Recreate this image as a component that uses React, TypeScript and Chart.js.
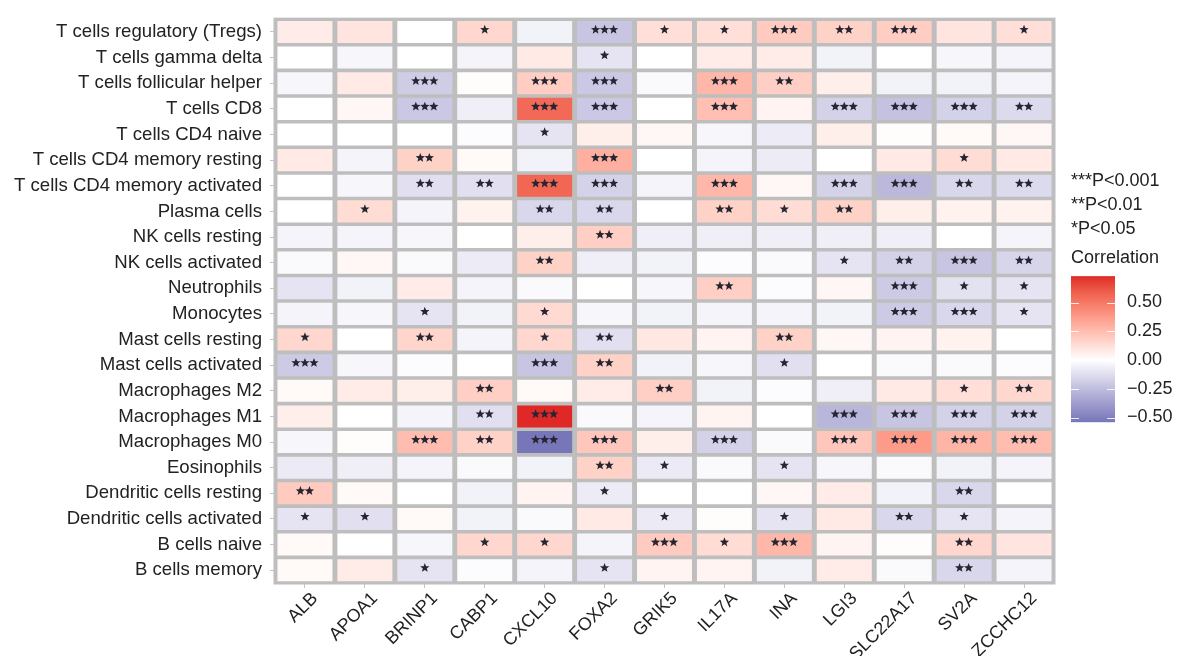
import React, { useEffect, useRef } from 'react';
import { Chart, registerables } from 'chart.js';

Chart.register(...registerables);

const genes = ['ALB', 'APOA1', 'BRINP1', 'CABP1', 'CXCL10', 'FOXA2', 'GRIK5', 'IL17A', 'INA', 'LGI3', 'SLC22A17', 'SV2A', 'ZCCHC12'];

const cellTypes = [
  'T cells regulatory (Tregs)',
  'T cells gamma delta',
  'T cells follicular helper',
  'T cells CD8',
  'T cells CD4 naive',
  'T cells CD4 memory resting',
  'T cells CD4 memory activated',
  'Plasma cells',
  'NK cells resting',
  'NK cells activated',
  'Neutrophils',
  'Monocytes',
  'Mast cells resting',
  'Mast cells activated',
  'Macrophages M2',
  'Macrophages M1',
  'Macrophages M0',
  'Eosinophils',
  'Dendritic cells resting',
  'Dendritic cells activated',
  'B cells naive',
  'B cells memory',
];

// correlation per cell type (row) and gene (column)
const correlation: number[][] = [
  [0.07, 0.10, 0.00, 0.15, -0.05, -0.22, 0.12, 0.12, 0.20, 0.17, 0.19, 0.10, 0.12],
  [0.00, -0.03, 0.00, -0.04, 0.08, -0.10, 0.00, 0.07, 0.07, -0.05, 0.00, -0.03, -0.04],
  [-0.03, 0.08, -0.19, 0.01, 0.19, -0.21, -0.02, 0.27, 0.18, 0.06, -0.05, -0.05, -0.04],
  [0.00, 0.03, -0.21, -0.06, 0.55, -0.21, 0.00, 0.24, 0.04, -0.17, -0.23, -0.17, -0.14],
  [0.00, 0.00, 0.00, -0.01, -0.10, 0.06, 0.03, -0.03, -0.07, 0.06, 0.01, 0.02, 0.03],
  [0.08, -0.04, 0.17, 0.02, -0.05, 0.30, 0.00, -0.04, -0.07, 0.00, 0.08, 0.13, 0.08],
  [0.00, -0.03, -0.12, -0.12, 0.56, -0.17, -0.04, 0.27, 0.03, -0.17, -0.27, -0.15, -0.14],
  [0.00, 0.13, -0.04, 0.05, -0.15, -0.15, 0.00, 0.17, 0.13, 0.17, 0.06, 0.05, 0.05],
  [-0.04, -0.04, -0.03, 0.00, 0.06, 0.18, -0.06, -0.06, -0.06, -0.06, -0.06, 0.00, -0.04],
  [-0.02, 0.03, -0.02, -0.07, 0.17, -0.06, -0.05, -0.01, -0.02, -0.10, -0.17, -0.22, -0.16],
  [-0.10, -0.05, 0.07, -0.04, -0.02, 0.00, -0.03, 0.18, -0.01, 0.03, -0.20, -0.11, -0.10],
  [-0.04, -0.03, -0.10, -0.05, 0.14, -0.03, -0.05, -0.04, -0.04, -0.05, -0.20, -0.15, -0.10],
  [0.15, 0.00, 0.16, -0.04, 0.15, -0.12, 0.09, 0.04, 0.17, 0.03, 0.04, 0.05, 0.00],
  [-0.20, -0.03, -0.01, 0.00, -0.22, 0.17, -0.05, -0.03, -0.12, 0.00, -0.02, -0.02, -0.01],
  [0.02, 0.07, 0.06, 0.18, 0.02, 0.07, 0.18, -0.05, -0.01, -0.06, 0.08, 0.12, 0.15],
  [0.06, 0.00, -0.04, -0.12, 0.73, -0.02, -0.04, 0.04, 0.00, -0.28, -0.22, -0.17, -0.17],
  [-0.03, 0.01, 0.25, 0.17, -0.54, 0.21, 0.06, -0.17, -0.02, 0.21, 0.38, 0.28, 0.25],
  [-0.08, -0.06, -0.04, -0.02, -0.05, 0.17, -0.08, -0.02, -0.10, -0.03, -0.02, -0.05, -0.04],
  [0.20, 0.02, 0.00, -0.05, 0.04, -0.07, 0.00, 0.00, 0.03, 0.07, -0.05, -0.15, 0.00],
  [-0.10, -0.12, 0.02, -0.05, -0.02, 0.08, -0.08, 0.01, -0.10, 0.08, -0.15, -0.10, -0.04],
  [0.02, 0.00, -0.03, 0.15, 0.15, -0.04, 0.20, 0.13, 0.27, 0.04, 0.01, 0.15, 0.10],
  [0.02, 0.07, -0.10, -0.01, -0.04, -0.10, 0.04, 0.04, -0.05, 0.07, -0.02, -0.15, -0.04],
];

// number of significance stars per cell
const significance: number[][] = [
  [0, 0, 0, 1, 0, 3, 1, 1, 3, 2, 3, 0, 1],
  [0, 0, 0, 0, 0, 1, 0, 0, 0, 0, 0, 0, 0],
  [0, 0, 3, 0, 3, 3, 0, 3, 2, 0, 0, 0, 0],
  [0, 0, 3, 0, 3, 3, 0, 3, 0, 3, 3, 3, 2],
  [0, 0, 0, 0, 1, 0, 0, 0, 0, 0, 0, 0, 0],
  [0, 0, 2, 0, 0, 3, 0, 0, 0, 0, 0, 1, 0],
  [0, 0, 2, 2, 3, 3, 0, 3, 0, 3, 3, 2, 2],
  [0, 1, 0, 0, 2, 2, 0, 2, 1, 2, 0, 0, 0],
  [0, 0, 0, 0, 0, 2, 0, 0, 0, 0, 0, 0, 0],
  [0, 0, 0, 0, 2, 0, 0, 0, 0, 1, 2, 3, 2],
  [0, 0, 0, 0, 0, 0, 0, 2, 0, 0, 3, 1, 1],
  [0, 0, 1, 0, 1, 0, 0, 0, 0, 0, 3, 3, 1],
  [1, 0, 2, 0, 1, 2, 0, 0, 2, 0, 0, 0, 0],
  [3, 0, 0, 0, 3, 2, 0, 0, 1, 0, 0, 0, 0],
  [0, 0, 0, 2, 0, 0, 2, 0, 0, 0, 0, 1, 2],
  [0, 0, 0, 2, 3, 0, 0, 0, 0, 3, 3, 3, 3],
  [0, 0, 3, 2, 3, 3, 0, 3, 0, 3, 3, 3, 3],
  [0, 0, 0, 0, 0, 2, 1, 0, 1, 0, 0, 0, 0],
  [2, 0, 0, 0, 0, 1, 0, 0, 0, 0, 0, 2, 0],
  [1, 1, 0, 0, 0, 0, 1, 0, 1, 0, 2, 1, 0],
  [0, 0, 0, 1, 1, 0, 3, 1, 3, 0, 0, 2, 0],
  [0, 0, 1, 0, 0, 1, 0, 0, 0, 0, 0, 2, 0],
];

const legendTicks = [0.5, 0.25, 0, -0.25, -0.5];
const pValueLabels = ['***P<0.001', '**P<0.01', '*P<0.05'];
const legendTitle = 'Correlation';
const corrMin = -0.541;
const corrMax = 0.729;

const HIGH = [224, 40, 38];
const LOW = [118, 118, 185];
const MID = [255, 255, 255];

function toLin(c: number) {
  c /= 255;
  return c <= 0.04045 ? c / 12.92 : Math.pow((c + 0.055) / 1.055, 2.4);
}
function fromLin(c: number) {
  const v = c <= 0.0031308 ? 12.92 * c : 1.055 * Math.pow(c, 1 / 2.4) - 0.055;
  return Math.round(Math.max(0, Math.min(1, v)) * 255);
}
const XN = 0.95047, YN = 1, ZN = 1.08883;
function rgbToLab(rgb: number[]) {
  const R = toLin(rgb[0]), G = toLin(rgb[1]), B = toLin(rgb[2]);
  const X = (R * 0.4124 + G * 0.3576 + B * 0.1805) / XN;
  const Y = (R * 0.2126 + G * 0.7152 + B * 0.0722) / YN;
  const Z = (R * 0.0193 + G * 0.1192 + B * 0.9505) / ZN;
  const f = (t: number) => (t > 0.008856 ? Math.cbrt(t) : 7.787 * t + 16 / 116);
  const fx = f(X), fy = f(Y), fz = f(Z);
  return [116 * fy - 16, 500 * (fx - fy), 200 * (fy - fz)];
}
function labToRgb(lab: number[]) {
  const fy = (lab[0] + 16) / 116;
  const fx = fy + lab[1] / 500;
  const fz = fy - lab[2] / 200;
  const inv = (t: number) => (t * t * t > 0.008856 ? t * t * t : (t - 16 / 116) / 7.787);
  const X = XN * inv(fx), Y = YN * inv(fy), Z = ZN * inv(fz);
  const R = 3.2406 * X - 1.5372 * Y - 0.4986 * Z;
  const G = -0.9689 * X + 1.8758 * Y + 0.0415 * Z;
  const B = 0.0557 * X - 0.204 * Y + 1.057 * Z;
  return [fromLin(R), fromLin(G), fromLin(B)];
}
const labHigh = rgbToLab(HIGH), labLow = rgbToLab(LOW), labMid = rgbToLab(MID);

function corrColor(v: number): string {
  const t = v >= 0 ? Math.min(1, v / corrMax) : Math.min(1, v / corrMin);
  const end = v >= 0 ? labHigh : labLow;
  const lab = [0, 1, 2].map((i) => labMid[i] + (end[i] - labMid[i]) * t);
  const [r, g, b] = labToRgb(lab);
  return `rgb(${r},${g},${b})`;
}

const FONT = '"Liberation Sans", Arial, Helvetica, sans-serif';
const TEXT = '#222222';

const framePlugin = {
  id: 'frame',
  beforeDatasetsDraw(chart: any) {
    const { ctx, chartArea: a } = chart;
    ctx.save();
    ctx.fillStyle = '#bebebe';
    ctx.fillRect(a.left - 1.5, a.top - 1.5, a.right - a.left + 3, a.bottom - a.top + 3);
    ctx.restore();
  },
};

function drawStar(ctx: CanvasRenderingContext2D, cx: number, cy: number, outer: number, inner: number) {
  ctx.beginPath();
  for (let k = 0; k < 10; k++) {
    const rad = k % 2 === 0 ? outer : inner;
    const ang = -Math.PI / 2 + (k * Math.PI) / 5;
    const px = cx + rad * Math.cos(ang);
    const py = cy + rad * Math.sin(ang);
    if (k === 0) ctx.moveTo(px, py);
    else ctx.lineTo(px, py);
  }
  ctx.closePath();
  ctx.fill();
}

const starsPlugin = {
  id: 'stars',
  afterDatasetsDraw(chart: any) {
    const { ctx } = chart;
    const xs = chart.scales.x, ys = chart.scales.y;
    const pitch = 9;
    ctx.save();
    ctx.fillStyle = '#262632';
    significance.forEach((row, r) => {
      row.forEach((n, c) => {
        if (n <= 0) return;
        const cx = xs.getPixelForValue(c);
        const cy = ys.getPixelForValue(r) - 2.3;
        for (let k = 0; k < n; k++) {
          drawStar(ctx, cx + (k - (n - 1) / 2) * pitch, cy, 4.9, 2.1);
        }
      });
    });
    ctx.restore();
  },
};

const legendPlugin = {
  id: 'corrLegend',
  afterDraw(chart: any) {
    const { ctx } = chart;
    const left = 1071, barW = 44, zeroY = 360, perUnit = 115;
    const yOf = (v: number) => zeroY - v * perUnit;
    ctx.save();
    ctx.font = `18px ${FONT}`;
    ctx.fillStyle = TEXT;
    ctx.textAlign = 'left';
    ctx.textBaseline = 'middle';
    const pY = [181, 205, 229.5];
    pValueLabels.forEach((t, i) => ctx.fillText(t, left, pY[i]));
    ctx.fillText(legendTitle, left, 258);

    const top = yOf(corrMax), bottom = yOf(corrMin);
    const grad = ctx.createLinearGradient(0, top, 0, bottom);
    const steps = 40;
    for (let i = 0; i <= steps; i++) {
      const v = corrMax + (corrMin - corrMax) * (i / steps);
      grad.addColorStop(i / steps, corrColor(v));
    }
    ctx.fillStyle = grad;
    ctx.fillRect(left, top, barW, bottom - top);

    ctx.strokeStyle = 'rgba(255,255,255,0.85)';
    ctx.lineWidth = 1;
    legendTicks.forEach((v) => {
      const y = Math.round(yOf(v)) + 0.5;
      ctx.beginPath();
      ctx.moveTo(left, y);
      ctx.lineTo(left + 8, y);
      ctx.moveTo(left + barW - 8, y);
      ctx.lineTo(left + barW, y);
      ctx.stroke();
    });

    ctx.fillStyle = TEXT;
    legendTicks.forEach((v) => {
      const label = (v < 0 ? '\u2212' : '') + Math.abs(v).toFixed(2);
      ctx.fillText(label, left + barW + 12, yOf(v));
    });
    ctx.restore();
  },
};

export default function App() {
  const canvasRef = useRef<HTMLCanvasElement | null>(null);

  useEffect(() => {
    document.body.style.margin = '0';
    const canvas = canvasRef.current;
    if (!canvas) return;
    const chart = new Chart(canvas, {
      type: 'bar',
      data: {
        labels: genes,
        datasets: cellTypes.map((name, r) => ({
          label: name,
          data: genes.map(() => [r - 0.43, r + 0.43]),
          backgroundColor: correlation[r].map(corrColor),
          borderWidth: 0,
          grouped: false,
          barPercentage: 0.918,
          categoryPercentage: 1,
        })),
      } as any,
      options: {
        responsive: false,
        animation: false,
        devicePixelRatio: 1,
        layout: { padding: { left: 0, right: 126, top: 11.5, bottom: 0 } },
        plugins: { legend: { display: false }, tooltip: { enabled: false } },
        scales: {
          x: {
            type: 'category',
            offset: true,
            grid: { offset: false, drawOnChartArea: false, drawTicks: true, tickLength: 5, color: '#c4c4c4' },
            border: { display: false },
            ticks: {
              autoSkip: false,
              minRotation: 45,
              maxRotation: 45,
              padding: 0,
              labelOffset: 10,
              color: TEXT,
              font: { family: FONT, size: 18 },
            },
            afterFit: (s: any) => {
              s.height = 73;
            },
          },
          y: {
            type: 'linear',
            reverse: true,
            min: -0.5,
            max: 21.5,
            afterBuildTicks: (s: any) => {
              s.ticks = cellTypes.map((_, i) => ({ value: i }));
            },
            grid: { drawOnChartArea: false, drawTicks: true, tickLength: 5, color: '#c4c4c4' },
            border: { display: false },
            ticks: {
              autoSkip: false,
              padding: 8,
              color: TEXT,
              font: { family: FONT, size: 18.6 },
              callback: (_v: any, i: number) => cellTypes[i] ?? '',
            },
            afterFit: (s: any) => {
              s.width = 275;
            },
          },
        },
      } as any,
      plugins: [framePlugin, starsPlugin, legendPlugin],
    });
    return () => chart.destroy();
  }, []);

  return (
    <div style={{ width: 1180, height: 656, background: '#fff' }}>
      <canvas ref={canvasRef} width={1180} height={656} style={{ display: 'block' }} />
    </div>
  );
}
